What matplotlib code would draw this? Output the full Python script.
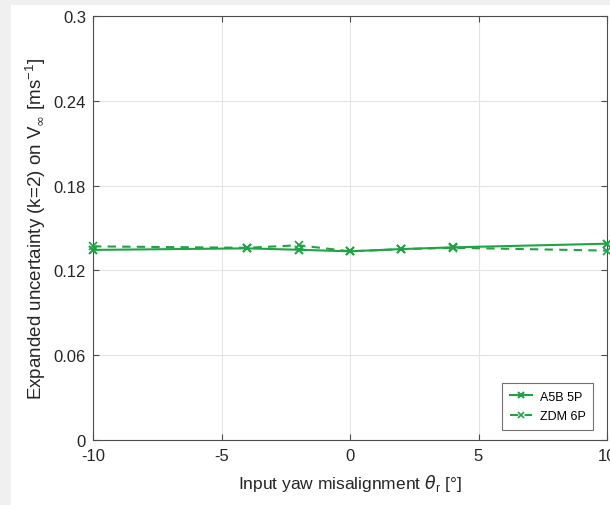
"""Expanded uncertainty on V_inf vs input yaw misalignment."""

import matplotlib
matplotlib.use("Agg")
import matplotlib.pyplot as plt
from matplotlib.patches import Rectangle

plt.rcParams["font.family"] = ["Liberation Sans", "DejaVu Sans"]
plt.rcParams["axes.unicode_minus"] = False

# data
yaw = [-10, -4, -2, 0, 2, 4, 10]
a5b_5p = [0.1345, 0.1356, 0.1346, 0.1335, 0.1351, 0.1363, 0.1389]
zdm_6p = [0.1370, 0.1360, 0.1378, 0.1335, 0.1350, 0.1360, 0.1340]

x_ticks = [-10, -5, 0, 5, 10]
y_ticks = [0, 0.06, 0.12, 0.18, 0.24, 0.3]
y_tick_labels = ["0", "0.06", "0.12", "0.18", "0.24", "0.3"]

GREEN = "#1fa445"

fig = plt.figure(figsize=(6.10, 5.06), dpi=100, facecolor="#f0f0f0")
fig.patches.append(Rectangle((11 / 610, 0), 1, 1 - 6 / 506, transform=fig.transFigure,
                             facecolor="white", edgecolor="none", zorder=-10))

ax = fig.add_axes([93 / 610, 65 / 506, 514 / 610, 424 / 506])
ax.set_facecolor("white")

ax.plot(yaw, a5b_5p, color=GREEN, lw=1.5, ls="-", marker="x", ms=6, mew=1.5,
        label="A5B 5P", clip_on=False, zorder=3)
ax.plot(yaw, zdm_6p, color=GREEN, lw=1.5, ls=(0, (4, 3)), marker="x", ms=6, mew=1.2,
        label="ZDM 6P", clip_on=False, zorder=3)

ax.set_xlim(-10, 10)
ax.set_ylim(0, 0.3)
ax.set_xticks(x_ticks)
ax.set_yticks(y_ticks)
ax.set_yticklabels(y_tick_labels)
ax.grid(True, color="#e3e3e3", lw=0.8)
ax.set_axisbelow(True)

for side in ["left", "bottom", "right", "top"]:
    ax.spines[side].set_color("#4d4d4d")
    ax.spines[side].set_linewidth(0.8)
ax.tick_params(direction="in", length=4, width=0.8, colors="#4d4d4d",
               labelcolor="#262626", labelsize=12, top=True, right=True)
ax.tick_params(axis="x", pad=6)
ax.tick_params(axis="y", pad=5)

ax.set_xlabel(r"Input yaw misalignment $\theta_\mathregular{r}$ [°]", fontsize=12.5,
              color="#262626", labelpad=6)
ax.set_ylabel(r"Expanded uncertainty (k=2) on V$_{\infty}$ [ms$^\mathregular{-1}$]",
              fontsize=13.5, color="#262626", labelpad=4)

leg = ax.legend(loc="lower right", bbox_to_anchor=(0.985, 0.01), fontsize=9,
                frameon=True, fancybox=False, edgecolor="#4d4d4d",
                handlelength=1.8, handletextpad=0.6, borderpad=0.6,
                labelspacing=0.6, markerscale=0.8)
leg.get_frame().set_linewidth(0.8)

fig.savefig("out.png", dpi=100, facecolor=fig.get_facecolor())
